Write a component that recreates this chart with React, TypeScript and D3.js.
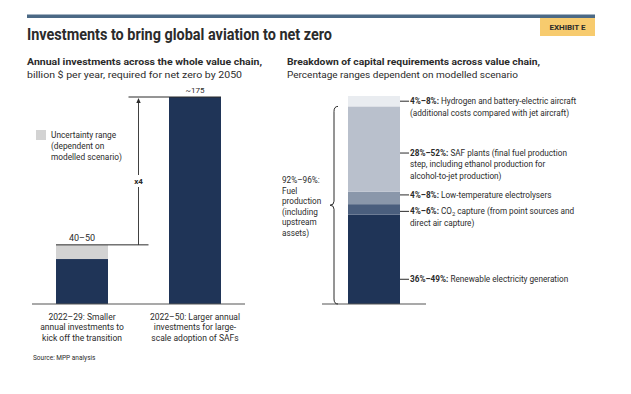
import React from "react";
import * as d3 from "d3";

const W = 631;
const H = 394;

// Left chart data
const periods = ["2022–29", "2022–50"];
const periodLabels = [
  ["2022–29: Smaller", "annual investments to", "kick off the transition"],
  ["2022–50: Larger annual", "investments for large-", "scale adoption of SAFs"],
];
const baseValues = [38, 175]; // billion $ per year (solid part)
const topValues = [50, 175]; // upper end of range
const valueLabels = ["40–50", "~175"];
const multiplierLabel = "x4";
const legendLines = ["Uncertainty range", "(dependent on", "modelled scenario)"];

// Right chart data (bottom to top)
const segNames = ["electricity", "co2", "electrolysers", "saf", "hydrogen"];
const segShares = [43, 5, 6, 41, 5];
const segColors = ["#1f3457", "#4a5e7d", "#8a97aa", "#b9c0cc", "#e9ecf0"];
const segRanges = ["36%–49%:", "4%–6%:", "4%–8%:", "28%–52%:", "4%–8%:"];
const segTexts = [
  ["Renewable electricity generation"],
  ["CO|2| capture (from point sources and", "direct air capture)"],
  ["Low-temperature electrolysers"],
  ["SAF plants (final fuel production", "step, including ethanol production for", "alcohol-to-jet production)"],
  ["Hydrogen and battery-electric aircraft", "(additional costs compared with jet aircraft)"],
];
const segLabelOffsets = [20, 2, -3, 4, 0];
const braceLines = ["92%–96%:", "Fuel", "production", "(including", "upstream", "assets)"];

const NAVY = "#1f3457";
const GRAY = "#d3d3d3";
const TXT = "#2b2b2b";
const FONT = "Roboto, 'Open Sans', sans-serif";

function App() {
  // Left chart scales
  const xL = d3.scaleBand<string>().domain(periods).range([32, 245]).paddingInner(0.54).paddingOuter(0.2125);
  const yL = d3.scaleLinear().domain([0, 175]).range([304, 97]);
  const bw = xL.bandwidth();
  const arrowX = ((xL(periods[0])! + bw) + xL(periods[1])!) / 2;

  // Right chart scales
  const yR = d3.scaleLinear().domain([0, 100]).range([304, 96]);
  const barX = 348;
  const barW = 52;
  const stacked: { y0: number; y1: number }[] = [];
  let acc = 0;
  segShares.forEach((v) => {
    stacked.push({ y0: acc, y1: acc + v });
    acc += v;
  });
  const braceTop = yR(stacked[3].y1);
  const braceBot = yR(0);
  const braceMid = (braceTop + braceBot) / 2;
  const bx = 334;

  const renderText = (s: string) => {
    const parts = s.split("|");
    if (parts.length === 1) return s;
    return (
      <>
        {parts[0]}
        <tspan fontSize={5.8} dy={2}>{parts[1]}</tspan>
        <tspan dy={-2}>{parts[2]}</tspan>
      </>
    );
  };

  return (
    <svg width={W} height={H} style={{ display: "block", position: "absolute", left: 0, top: 0 }} fontFamily={FONT}>
      <rect width={W} height={H} fill="#fff" />
      {/* top rule */}
      <rect x={27} y={14.5} width={568} height={3.5} fill="#4b6985" />
      {/* exhibit badge */}
      <rect x={540} y={18} width={55} height={18} fill="#f7cb6e" />
      <text x={567.5} y={30} textAnchor="middle" fontSize={8} fontWeight={700} fill={TXT}>EXHIBIT E</text>
      {/* title */}
      <text x={27} y={40} fontSize={16} fontWeight={700} fill={TXT} textLength={305} lengthAdjust="spacingAndGlyphs">
        Investments to bring global aviation to net zero
      </text>

      {/* left subtitle */}
      <text x={27} y={65} fontSize={9.5} fontWeight={700} fill={TXT} textLength={235} lengthAdjust="spacingAndGlyphs">
        Annual investments across the whole value chain,
      </text>
      <text x={27} y={77.5} fontSize={9.5} fill={TXT} textLength={215} lengthAdjust="spacingAndGlyphs">
        billion $ per year, required for net zero by 2050
      </text>

      {/* right subtitle */}
      <text x={287} y={65} fontSize={9.5} fontWeight={700} fill={TXT} textLength={253} lengthAdjust="spacingAndGlyphs">
        Breakdown of capital requirements across value chain,
      </text>
      <text x={287} y={77.5} fontSize={9.5} fill={TXT} textLength={231} lengthAdjust="spacingAndGlyphs">
        Percentage ranges dependent on modelled scenario
      </text>

      {/* legend */}
      <rect x={36} y={130} width={10} height={10} fill={GRAY} />
      {legendLines.map((l, i) => (
        <text key={i} x={51} y={138 + i * 11} fontSize={8.3} fill={TXT}>{l}</text>
      ))}

      {/* left bars */}
      {periods.map((p, i) => (
        <g key={p}>
          <rect x={xL(p)!} y={yL(topValues[i])} width={bw} height={yL(baseValues[i]) - yL(topValues[i])} fill={GRAY} />
          <rect x={xL(p)!} y={yL(baseValues[i])} width={bw} height={yL(0) - yL(baseValues[i])} fill={NAVY} />
          {periodLabels[i].map((l, j) => (
            <text key={j} x={xL(p)! + bw / 2} y={319.5 + j * 10.5} textAnchor="middle" fontSize={8.5} fill={TXT}>{l}</text>
          ))}
        </g>
      ))}
      {/* value lines */}
      <line x1={xL(periods[0])!} x2={arrowX + 10} y1={yL(topValues[0])} y2={yL(topValues[0])} stroke={TXT} strokeWidth={1} />
      <line x1={arrowX - 10} x2={xL(periods[1])! + bw} y1={yL(topValues[1])} y2={yL(topValues[1])} stroke={TXT} strokeWidth={1} />
      <text x={xL(periods[0])! + bw / 2} y={yL(topValues[0]) - 4} textAnchor="middle" fontSize={9} fill={TXT}>{valueLabels[0]}</text>
      <text x={xL(periods[1])! + bw / 2} y={yL(topValues[1]) - 4.5} textAnchor="middle" fontSize={8} fill={TXT}>{valueLabels[1]}</text>
      {/* arrow */}
      <line x1={arrowX} x2={arrowX} y1={yL(topValues[0])} y2={yL(topValues[1]) + 3} stroke={TXT} strokeWidth={0.9} />
      <path d={`M${arrowX - 2.2},${yL(topValues[1]) + 6} L${arrowX},${yL(topValues[1]) + 1} L${arrowX + 2.2},${yL(topValues[1]) + 6} Z`} fill={TXT} />
      <rect x={arrowX - 8} y={175} width={16} height={12} fill="#fff" />
      <text x={arrowX} y={184} textAnchor="middle" fontSize={8} fontWeight={700} fill={TXT}>{multiplierLabel}</text>
      {/* left axis */}
      <line x1={32} x2={245} y1={yL(0)} y2={yL(0)} stroke="#555" strokeWidth={1.2} />

      {/* source */}
      <text x={33} y={360} fontSize={6.5} fill={TXT}>Source: MPP analysis</text>

      {/* right stacked bar */}
      {stacked.map((s, i) => (
        <rect key={segNames[i]} x={barX} y={yR(s.y1)} width={barW} height={yR(s.y0) - yR(s.y1)} fill={segColors[i]} />
      ))}
      <line x1={barX - 26} x2={barX + barW + 26} y1={yR(0)} y2={yR(0)} stroke="#555" strokeWidth={1.2} />
      {/* right labels */}
      {stacked.map((s, i) => {
        const y = (yR(s.y0) + yR(s.y1)) / 2 + segLabelOffsets[i];
        return (
          <g key={"l" + i}>
            <line x1={barX + barW} x2={barX + barW + 9} y1={y} y2={y} stroke={TXT} strokeWidth={1} />
            {segTexts[i].map((t, j) => (
              <text key={j} x={barX + barW + 10} y={y + 2.9 + j * 11.5} fontSize={8.2} fill={TXT}>
                {j === 0 ? (
                  <>
                    <tspan fontWeight={700}>{segRanges[i]} </tspan>
                    {renderText(t)}
                  </>
                ) : (
                  renderText(t)
                )}
              </text>
            ))}
          </g>
        );
      })}
      {/* brace */}
      <path
        d={`M${bx + 4},${braceTop} Q${bx},${braceTop} ${bx},${braceTop + 5} L${bx},${braceMid - 4} Q${bx},${braceMid} ${bx - 4},${braceMid} Q${bx},${braceMid} ${bx},${braceMid + 4} L${bx},${braceBot - 5} Q${bx},${braceBot} ${bx + 4},${braceBot}`}
        fill="none"
        stroke={TXT}
        strokeWidth={1}
      />
      {braceLines.map((l, i) => (
        <text key={i} x={282} y={183 + i * 10.5} fontSize={8.2} fill={TXT}>{l}</text>
      ))}
    </svg>
  );
}

export default App;
